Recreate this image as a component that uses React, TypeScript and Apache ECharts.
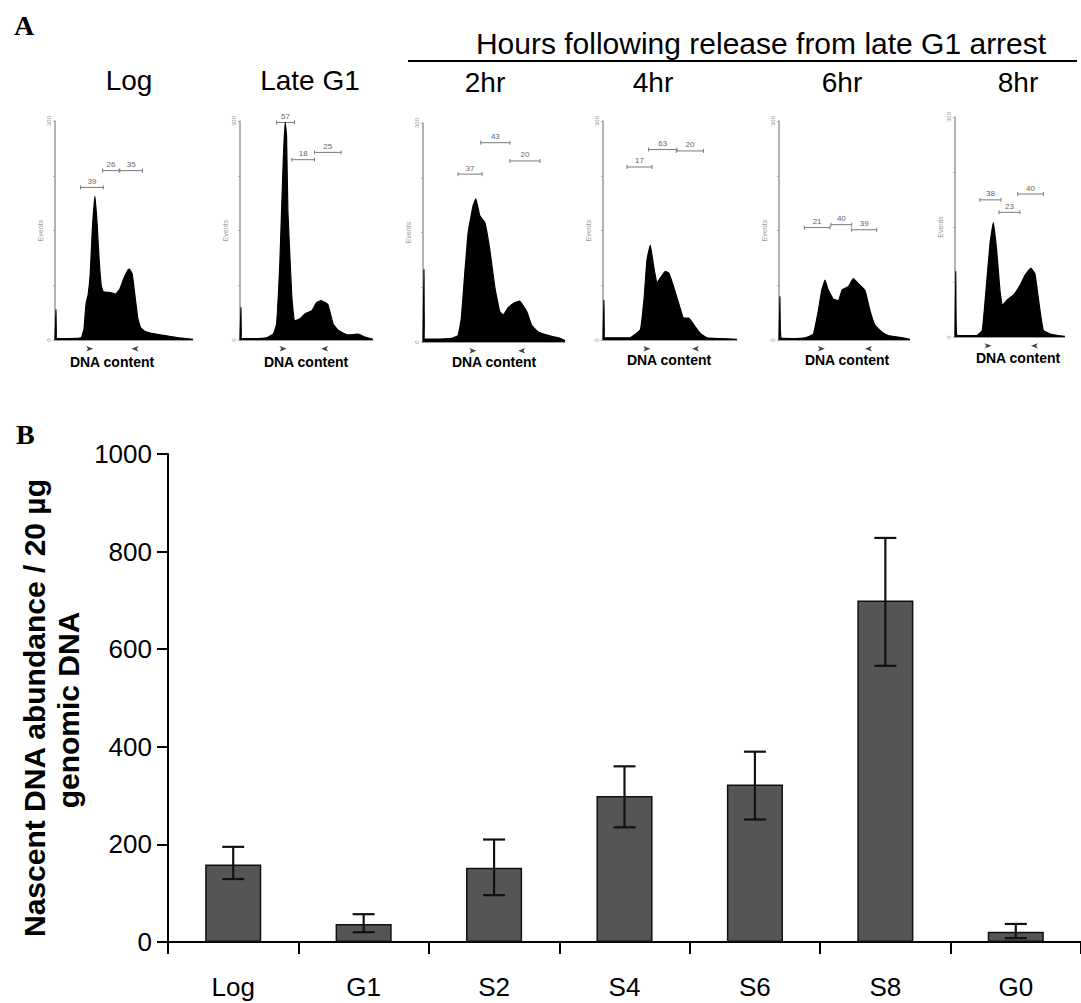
import React, { useEffect, useRef } from "react";
import * as echarts from "echarts";

// ---------- Panel B data ----------
const categories = ["Log", "G1", "S2", "S4", "S6", "S8", "G0"];
const means = [159, 37, 152, 299, 323, 700, 21];
const errLow = [129, 20, 96, 235, 251, 566, 8];
const errHigh = [195, 57, 210, 360, 390, 828, 37];

// ---------- Panel A data ----------
const panelTitles = ["Log", "Late G1", "2hr", "4hr", "6hr", "8hr"];
const headerText = "Hours following release from late G1 arrest";

const histLog: number[][] = [[0,0],[0.7,42],[1.5,2],[10,2],[19,3],[21,15],[22.5,50],[24,62],[25.5,90],[27,150],[28.9,197],[30.5,160],[32,110],[33.5,75],[35,66],[40,65],[44,63],[47,70],[50,85],[53,96],[54,97],[56,90],[58,60],[60,30],[62,17],[65,12],[70,9],[80,6],[90,3],[100,1]];
const histLateG1: number[][] = [[0,0],[0.7,45],[1.5,2],[10,2],[20,3],[25,8],[27.5,22],[30,108],[32.5,245],[34,298],[35,280],[36,177],[39,58],[41,26],[45,29],[49,36],[54,40],[57.5,51],[61,54],[66,49],[70,22],[74,13],[81,7],[89,8],[94,4],[100,1]];
const hist2hr: number[][] = [[0,0],[0.7,100],[1.5,4],[10,4],[20,5],[24.7,9],[27,33],[29.4,94],[31.8,150],[35.3,187],[37.2,196],[40,173],[43.5,164],[47,127],[50.6,75],[54,42],[56.5,37],[60,47],[64.7,54],[68,56],[73,42],[76.5,23],[81,14],[88,9],[95,6],[100,2]];
const hist4hr: number[][] = [[0,0],[0.7,55],[1.5,3],[10,3],[20,3],[27.9,14],[30.8,60],[32.8,110],[35.3,130],[37.8,101],[40.3,78],[42.8,85],[46.5,94],[49,92],[52.7,73],[56.5,50],[60.2,30],[64,30],[67.7,21],[72.6,9],[77.6,3],[87.6,2],[100,1]];
const hist6hr: number[][] = [[0,0],[0.7,60],[1.5,3],[10,2],[20,3],[26.2,8],[30,40],[32.6,68],[35.1,82],[37.7,68],[41.5,56],[45.3,54],[48.3,69],[52.9,73],[56.7,84],[60.6,77],[65.6,68],[69.5,40],[73.3,20],[78.4,11],[83.5,6],[91,4],[100,1]];
const hist8hr: number[][] = [[0,0],[0.7,90],[1.5,3],[10,2],[20,2],[24.8,9],[27.9,59],[31.8,127],[34.8,156],[37.9,118],[40.9,63],[43,43],[47,50],[53,57],[59,70],[63.6,84],[69,94],[72.7,86],[77.3,36],[80.3,9],[86.4,4],[93.9,2],[100,1]];

const bracketsLog: (number | string)[][] = [[18.5,35,209,"39"],[34.5,46.5,232,"26"],[47,63.4,232,"35"]];
const bracketsLateG1: (number | string)[][] = [[27.5,41,298,"57"],[39,56,247,"18"],[56,76,257,"25"]];
const brackets2hr: (number | string)[][] = [[24.7,41.6,230,"37"],[40.7,61.2,273,"43"],[61.2,82.4,248,"20"]];
const brackets4hr: (number | string)[][] = [[17.9,36.6,237,"17"],[34,55.2,261,"63"],[54.7,75,259,"20"]];
const brackets6hr: (number | string)[][] = [[19.3,38.9,154,"21"],[39.7,55.5,158,"40"],[55.5,74.6,151,"39"]];
const brackets8hr: (number | string)[][] = [[22.7,41.8,187,"38"],[40,59,170,"23"],[57,80.3,195,"40"]];

const markersLog = [27.7, 55.4];
const markersLateG1 = [35, 61];
const markers2hr = [37.6, 67];
const markers4hr = [35.3, 66.4];
const markers6hr = [35, 65.6];
const markers8hr = [33.3, 69];

const hists = [histLog, histLateG1, hist2hr, hist4hr, hist6hr, hist8hr];
const brackets = [bracketsLog, bracketsLateG1, brackets2hr, brackets4hr, brackets6hr, brackets8hr];
const markers = [markersLog, markersLateG1, markers2hr, markers4hr, markers6hr, markers8hr];

// ---------- layout (positions only) ----------
const histGrids = [
  { left: 55, top: 121, width: 138, height: 219 },
  { left: 240, top: 121, width: 133, height: 219 },
  { left: 423, top: 123, width: 142, height: 219 },
  { left: 603, top: 121, width: 134, height: 219 },
  { left: 779, top: 121, width: 131, height: 219 },
  { left: 955, top: 117, width: 110, height: 220 },
];
const titlePos = [[129, 80], [310, 80], [485, 82], [653, 82], [842, 82], [1018, 82]];
const dnaPos = [[112, 362], [306, 362], [494, 362], [669, 360], [847, 360], [1018, 358]];

const SANS = "'Liberation Sans', Arial, Helvetica, sans-serif";
const SERIF = "'Liberation Serif', 'Times New Roman', serif";

export default function App() {
  const ref = useRef<HTMLDivElement>(null);
  useEffect(() => {
    document.body.style.margin = "0";
    if (!ref.current) return;
    const chart = echarts.init(ref.current, null, { renderer: "svg" });

    const grids: any[] = [{ left: 168, top: 454, right: -13, bottom: 61 }];
    const xAxes: any[] = [
      {
        gridIndex: 0,
        type: "category",
        data: categories,
        axisLine: { lineStyle: { color: "#000", width: 2 } },
        axisTick: { show: true, length: 12, lineStyle: { color: "#000", width: 2 } },
        axisLabel: { fontSize: 26, color: "#000", margin: 32, fontFamily: SANS },
      },
    ];
    const yAxes: any[] = [
      {
        gridIndex: 0,
        type: "value",
        min: 0,
        max: 1000,
        interval: 200,
        axisLine: { show: true, lineStyle: { color: "#000", width: 2 } },
        axisTick: { show: true, length: 11, lineStyle: { color: "#000", width: 2 } },
        axisLabel: { fontSize: 26, color: "#000", margin: 16, fontFamily: SANS, formatter: (v: number) => String(v) },
        splitLine: { show: false },
      },
    ];
    const series: any[] = [
      {
        type: "bar",
        xAxisIndex: 0,
        yAxisIndex: 0,
        data: means,
        barWidth: "43%",
        itemStyle: { color: "#555555", borderColor: "#111", borderWidth: 1.5 },
      },
      {
        type: "custom",
        xAxisIndex: 0,
        yAxisIndex: 0,
        z: 5,
        itemStyle: { color: "#111" },
        data: categories.map((_, i) => [i, errLow[i], errHigh[i]]),
        renderItem: (params: any, api: any) => {
          const x = api.value(0);
          const lo = api.coord([x, api.value(1)]);
          const hi = api.coord([x, api.value(2)]);
          const h = 11;
          const st = { stroke: "#111", lineWidth: 2.2 };
          return {
            type: "group",
            children: [
              { type: "line", shape: { x1: lo[0], y1: lo[1], x2: hi[0], y2: hi[1] }, style: st },
              { type: "line", shape: { x1: hi[0] - h, y1: hi[1], x2: hi[0] + h, y2: hi[1] }, style: st },
              { type: "line", shape: { x1: lo[0] - h, y1: lo[1], x2: lo[0] + h, y2: lo[1] }, style: st },
            ],
          };
        },
      },
    ];

    histGrids.forEach((g, i) => {
      const gi = i + 1;
      grids.push(g);
      xAxes.push({
        gridIndex: gi,
        type: "value",
        min: 0,
        max: 100,
        axisLine: { show: true, lineStyle: { color: "#9a9a9a", width: 1 } },
        axisTick: { show: false },
        axisLabel: { show: false },
        splitLine: { show: false },
      });
      yAxes.push({
        gridIndex: gi,
        type: "value",
        min: 0,
        max: 300,
        interval: 75,
        axisLine: { show: true, lineStyle: { color: "#9a9a9a", width: 1.5 } },
        axisTick: { show: true, length: 2, lineStyle: { color: "#aaa", width: 1 } },
        axisLabel: {
          show: true,
          rotate: 90,
          fontSize: 6,
          color: "#999",
          margin: 3,
          fontFamily: SANS,
          formatter: (v: number) => (v === 300 ? "300" : v === 0 ? "0" : ""),
        },
        splitLine: { show: false },
        name: "Events",
        nameLocation: "middle",
        nameRotate: 90,
        nameGap: 11,
        nameTextStyle: { fontSize: 7, color: "#999", fontFamily: SANS },
      });
      series.push({
        type: "line",
        xAxisIndex: gi,
        yAxisIndex: gi,
        data: hists[i],
        symbol: "none",
        smooth: 0.1,
        lineStyle: { color: "#000", width: 1.2 },
        itemStyle: { color: "#000" },
        areaStyle: { color: "#000", opacity: 1 },
      });
      const br = brackets[i];
      series.push({
        type: "custom",
        xAxisIndex: gi,
        yAxisIndex: gi,
        clip: false,
        itemStyle: { color: "#777" },
        data: br.map((b) => [b[0], b[1], b[2]]),
        renderItem: (params: any, api: any) => {
          const p1 = api.coord([api.value(0), api.value(2)]);
          const p2 = api.coord([api.value(1), api.value(2)]);
          const label = String(br[params.dataIndex][3]);
          const st = { stroke: "#7a7a7a", lineWidth: 1 };
          return {
            type: "group",
            children: [
              { type: "line", shape: { x1: p1[0], y1: p1[1], x2: p2[0], y2: p2[1] }, style: st },
              { type: "line", shape: { x1: p1[0], y1: p1[1] - 2, x2: p1[0], y2: p1[1] + 2 }, style: st },
              { type: "line", shape: { x1: p2[0], y1: p2[1] - 2, x2: p2[0], y2: p2[1] + 2 }, style: st },
              {
                type: "text",
                x: (p1[0] + p2[0]) / 2,
                y: p1[1] - 6,
                style: {
                  text: label,
                  fontSize: 8,
                  fill: "#666",
                  fontFamily: SANS,
                  align: "center",
                  verticalAlign: "middle",
                },
              },
            ],
          };
        },
      });
      series.push({
        type: "scatter",
        xAxisIndex: gi,
        yAxisIndex: gi,
        clip: false,
        symbol: "arrow",
        symbolSize: [4, 7],
        itemStyle: { color: "#111" },
        data: markers[i].map((c, k) => ({ value: [c, -12], symbolRotate: k === 0 ? -90 : 90 })),
      });
    });

    const graphic: any[] = [
      { type: "text", x: 14, y: 25, style: { text: "A", font: `bold 28px ${SERIF}`, fill: "#000", verticalAlign: "middle" } },
      { type: "text", x: 16, y: 434, style: { text: "B", font: `bold 28px ${SERIF}`, fill: "#000", verticalAlign: "middle" } },
      { type: "text", x: 761, y: 43, style: { text: headerText, font: `30px ${SANS}`, fill: "#000", align: "center", verticalAlign: "middle" } },
      { type: "line", shape: { x1: 408, y1: 61, x2: 1077, y2: 61 }, style: { stroke: "#000", lineWidth: 2 } },
      {
        type: "text",
        x: 34,
        y: 708,
        rotation: Math.PI / 2,
        style: { text: "Nascent DNA abundance / 20 µg", font: `bold 30px ${SANS}`, fill: "#000", align: "center", verticalAlign: "middle" },
      },
      {
        type: "text",
        x: 68,
        y: 710,
        rotation: Math.PI / 2,
        style: { text: "genomic DNA", font: `bold 30px ${SANS}`, fill: "#000", align: "center", verticalAlign: "middle" },
      },
    ];
    panelTitles.forEach((t, i) => {
      graphic.push({
        type: "text",
        x: titlePos[i][0],
        y: titlePos[i][1],
        style: { text: t, font: `28px ${SANS}`, fill: "#000", align: "center", verticalAlign: "middle" },
      });
      graphic.push({
        type: "text",
        x: dnaPos[i][0],
        y: dnaPos[i][1],
        style: { text: "DNA content", font: `bold 14px ${SANS}`, fill: "#000", align: "center", verticalAlign: "middle" },
      });
    });

    chart.setOption({
      animation: false,
      backgroundColor: "#fff",
      grid: grids,
      xAxis: xAxes,
      yAxis: yAxes,
      series,
      graphic,
    });
    return () => chart.dispose();
  }, []);
  return <div ref={ref} style={{ width: 1081, height: 1003 }} />;
}
